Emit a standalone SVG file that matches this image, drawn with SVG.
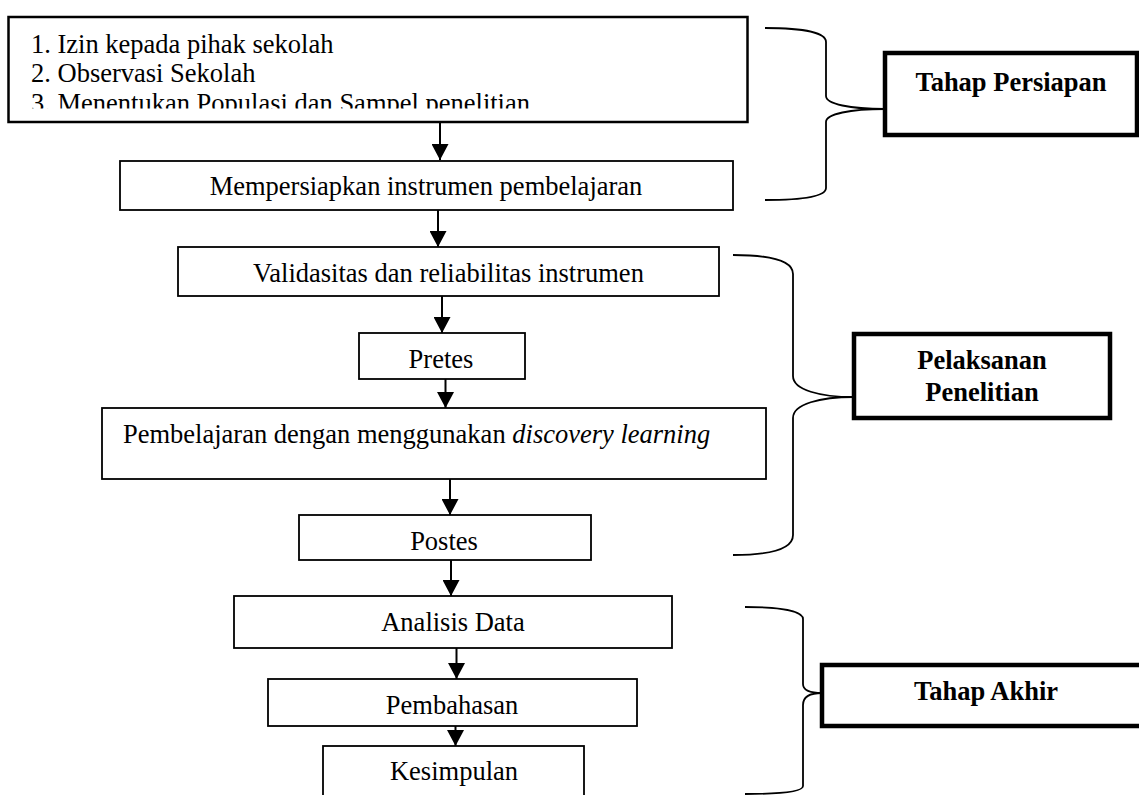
<svg xmlns="http://www.w3.org/2000/svg" width="1139" height="795" viewBox="0 0 1139 795">
<style>
  .box { fill: #fff; stroke: #000; stroke-width: 1.8; }
  .box1 { fill: #fff; stroke: #000; stroke-width: 2.5; }
  .lab { fill: #fff; stroke: #000; stroke-width: 4.5; }
  .t { font-family: "Liberation Serif", "Times New Roman", serif; font-size: 26.5px; fill: #000; }
  .c { text-anchor: middle; }
  .b { font-weight: bold; }
  .brace { fill: none; stroke: #000; stroke-width: 1.8; }
  .arr { stroke: #000; stroke-width: 2; fill: none; marker-end: url(#ah); }
</style>
<defs>
  <marker id="ah" markerUnits="userSpaceOnUse" markerWidth="17" markerHeight="17" refX="16" refY="8.5" orient="auto">
    <path d="M0,0 L16,8.5 L0,17 z" fill="#000"/>
  </marker>
  <clipPath id="clip1"><rect x="10" y="18" width="736" height="90.5"/></clipPath>
</defs>
<rect width="1139" height="795" fill="#fff"/>

<g id="connectors">
  <line class="arr" x1="440" y1="123" x2="440" y2="160"/>
  <line class="arr" x1="438" y1="210" x2="438" y2="247"/>
  <line class="arr" x1="442" y1="296" x2="442" y2="333"/>
  <line class="arr" x1="445.5" y1="379" x2="445.5" y2="408"/>
  <line class="arr" x1="450" y1="479" x2="450" y2="515"/>
  <line class="arr" x1="451" y1="560" x2="451" y2="596"/>
  <line class="arr" x1="456.5" y1="648" x2="456.5" y2="679"/>
  <line class="arr" x1="455.5" y1="726" x2="455.5" y2="746"/>
  <path class="brace" d="M765,28 C805,28 826,33 826,42 L826,96 C826,104 850,109 885,109 C850,109 826,114 826,122 L826,188 C826,196 805,200 765,200"/>
  <path class="brace" d="M733,255 C775,255 793,262 793,274 L793,376 C793,390 820,397 854,397 C820,397 793,404 793,418 L793,535 C793,548 775,555 733,555"/>
  <path class="brace" d="M745,607 C785,607 803,612 803,619 L803,684 C803,690 810,693 822,693 C810,693 803,697 803,705 L803,786 C803,791 785,794 745,794"/>
</g>

<g id="n1">
  <rect class="box1" x="8.5" y="17" width="739" height="105"/>
  <g clip-path="url(#clip1)">
    <text class="t" x="31" y="53">1. Izin kepada pihak sekolah</text>
    <text class="t" x="31" y="82">2. Observasi Sekolah</text>
    <text class="t" x="31" y="111.5">3. Menentukan Populasi dan Sampel penelitian</text>
  </g>
</g>
<g id="n2">
  <rect class="box" x="120" y="161" width="613" height="49"/>
  <text class="t c" x="426" y="195">Mempersiapkan instrumen pembelajaran</text>
</g>
<g id="n3">
  <rect class="box" x="178" y="247" width="541" height="49"/>
  <text class="t c" x="448.5" y="282">Validasitas dan reliabilitas instrumen</text>
</g>
<g id="n4">
  <rect class="box" x="359" y="333" width="166" height="46"/>
  <text class="t c" x="441" y="368">Pretes</text>
</g>
<g id="n5">
  <rect class="box" x="102" y="408" width="664" height="71"/>
  <text class="t" x="123" y="443">Pembelajaran dengan menggunakan <tspan font-style="italic">discovery learning</tspan></text>
</g>
<g id="n6">
  <rect class="box" x="299" y="515" width="292" height="45"/>
  <text class="t c" x="444" y="550">Postes</text>
</g>
<g id="n7">
  <rect class="box" x="234" y="596" width="438" height="52"/>
  <text class="t c" x="453" y="631">Analisis Data</text>
</g>
<g id="n8">
  <rect class="box" x="268" y="679" width="369" height="47"/>
  <text class="t c" x="452" y="714">Pembahasan</text>
</g>
<g id="n9">
  <rect class="box" x="323" y="746" width="261" height="60"/>
  <text class="t c" x="454" y="780">Kesimpulan</text>
</g>

<g id="label1">
  <rect class="lab" x="885" y="53" width="252" height="82"/>
  <text class="t c b" x="1011" y="91">Tahap Persiapan</text>
</g>
<g id="label2">
  <rect class="lab" x="854" y="334" width="256" height="84"/>
  <text class="t c b" x="982" y="369">Pelaksanan</text>
  <text class="t c b" x="982" y="401">Penelitian</text>
</g>
<g id="label3">
  <rect class="lab" x="822" y="665" width="330" height="61"/>
  <text class="t c b" x="986" y="700">Tahap Akhir</text>
</g>
</svg>
